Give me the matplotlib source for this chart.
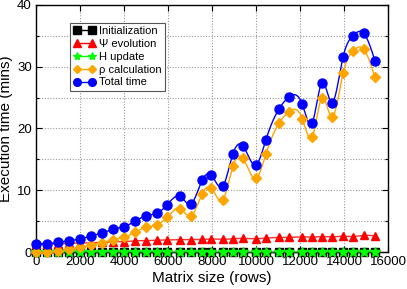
import numpy as np
import matplotlib
matplotlib.use("Agg")
import matplotlib.pyplot as plt
from matplotlib.ticker import MultipleLocator

plt.rcParams["font.family"] = ["Liberation Sans", "DejaVu Sans"]

# matrix sizes (rows)
sizes = [0, 500, 1000, 1500, 2000, 2500, 3000, 3500, 4000, 4500, 5000, 5500,
         5950, 6550, 7050, 7550, 7950, 8500, 8950, 9400, 10000, 10450, 11050,
         11500, 12100, 12550, 13000, 13450, 13950, 14400, 14900, 15400]

# execution times (mins)
init_time = [0.0] * len(sizes)
h_update = [0.02] * len(sizes)
psi_evol = [1.3, 1.3, 1.35, 1.4, 1.45, 1.5, 1.55, 1.65, 1.7, 1.8, 1.85, 1.9,
            1.95, 2.0, 2.0, 2.05, 2.1, 2.05, 2.15, 2.2, 2.15, 2.25, 2.35,
            2.35, 2.45, 2.4, 2.5, 2.45, 2.55, 2.5, 2.7, 2.6]
rho_calc = [0.05, 0.05, 0.15, 0.45, 0.75, 1.1, 1.5, 2.0, 2.4, 3.2, 4.0, 4.4,
            5.6, 7.0, 5.85, 9.4, 10.4, 8.5, 13.9, 15.2, 11.9, 15.9, 20.9,
            22.7, 21.6, 18.6, 25.0, 21.8, 28.9, 32.5, 32.8, 28.3]
total_time = [1.35, 1.35, 1.55, 1.85, 2.1, 2.6, 3.05, 3.7, 4.1, 5.0, 5.85, 6.3,
              7.6, 9.0, 7.8, 11.6, 12.5, 10.7, 15.9, 17.2, 14.1, 18.2, 23.2,
              25.1, 23.9, 20.9, 27.4, 24.2, 31.5, 35.0, 35.4, 31.0]


def cspline(x, y, n=600):
    # natural cubic spline through the points (like gnuplot "smooth csplines")
    x = np.asarray(x, float)
    y = np.asarray(y, float)
    k = len(x)
    h = np.diff(x)
    A = np.zeros((k, k))
    b = np.zeros(k)
    A[0, 0] = A[-1, -1] = 1.0
    for i in range(1, k - 1):
        A[i, i - 1] = h[i - 1]
        A[i, i] = 2 * (h[i - 1] + h[i])
        A[i, i + 1] = h[i]
        b[i] = 3 * ((y[i + 1] - y[i]) / h[i] - (y[i] - y[i - 1]) / h[i - 1])
    c = np.linalg.solve(A, b)
    xs = np.linspace(x[0], x[-1], n)
    idx = np.clip(np.searchsorted(x, xs) - 1, 0, k - 2)
    dx = xs - x[idx]
    hi = h[idx]
    bb = (y[idx + 1] - y[idx]) / hi - hi * (2 * c[idx] + c[idx + 1]) / 3
    dd = (c[idx + 1] - c[idx]) / (3 * hi)
    ys = y[idx] + bb * dx + c[idx] * dx ** 2 + dd * dx ** 3
    return xs, ys


fig = plt.figure(figsize=(4.07, 2.89), dpi=100)
ax = fig.add_axes([0.0885, 0.128, 0.865, 0.855])

series = [
    ("Initialization", init_time, "black", "black", "s", 6, 1.0),
    ("\u03a8 evolution", psi_evol, "#ff3030", "red", "^", 6, 1.0),
    ("H update", h_update, "#00bb00", "#00ff00", "*", 7, 0.6),
    ("\u03c1 calculation", rho_calc, "orange", "orange", "D", 5, 1.0),
    ("Total time", total_time, "blue", "blue", "o", 6.5, 1.0),
]

for label, vals, lc, mc, mk, ms, la in series:
    xs, ys = cspline(sizes, vals)
    ax.plot(xs, ys, color=lc, lw=1.0, alpha=la, clip_on=False, zorder=3)
    ax.plot(sizes, vals, linestyle="none", marker=mk, color=mc, ms=ms,
            markeredgecolor=mc, clip_on=False, zorder=4)
    # legend proxy: marker - line - marker
    ax.plot([], [], color=mc, lw=1.0, marker=mk, ms=ms * 0.85, label=label)

ax.set_xlim(0, 16000)
ax.set_ylim(0, 40)
ax.xaxis.set_major_locator(MultipleLocator(2000))
ax.yaxis.set_major_locator(MultipleLocator(10))
ax.yaxis.set_minor_locator(MultipleLocator(5))
ax.grid(which="both", color="#999999", linestyle=(0, (1, 1.5)), lw=0.8)
ax.set_axisbelow(True)
ax.tick_params(which="both", direction="in", top=True, right=True,
               labelsize=9.5, length=4, width=0.8, pad=3)
ax.tick_params(which="minor", length=2)
for s in ax.spines.values():
    s.set_linewidth(1.0)
    s.set_color("black")

ax.set_xlabel("Matrix size (rows)", fontsize=11, labelpad=2)
ax.set_ylabel("Execution time (mins)", fontsize=11, labelpad=3)

leg = ax.legend(loc="upper left", bbox_to_anchor=(0.097, 0.927), numpoints=2,
                fontsize=8, handlelength=2.0, handletextpad=0.3,
                labelspacing=0.25, borderpad=0.3, fancybox=False,
                framealpha=1.0, edgecolor="#555555", borderaxespad=0)
leg.get_frame().set_linewidth(0.8)

fig.savefig("out.png", dpi=100)
